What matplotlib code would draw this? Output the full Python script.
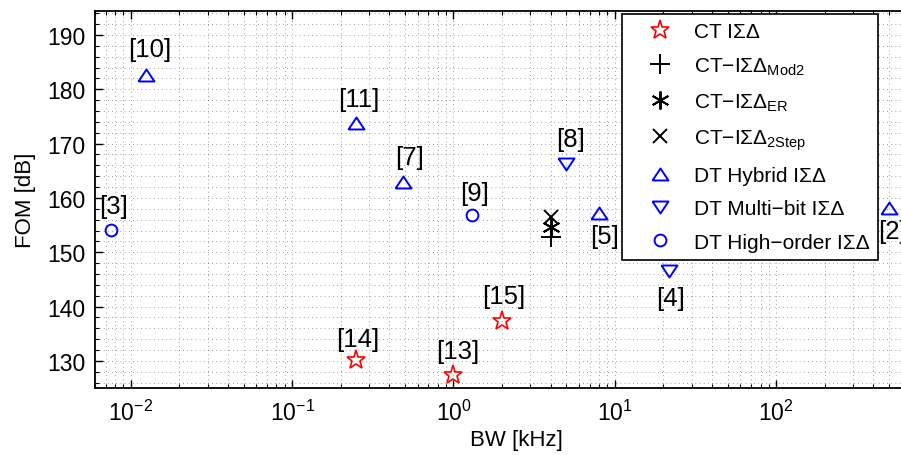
import matplotlib
matplotlib.use("Agg")
import matplotlib.pyplot as plt
from matplotlib import font_manager
from matplotlib.ticker import LogLocator, MultipleLocator, NullFormatter, FuncFormatter
import math

installed = {f.name for f in font_manager.fontManager.ttflist}
NARROW = 'Liberation Sans Narrow' in installed

if NARROW:
    main_family = ['Liberation Sans Narrow', 'Liberation Sans', 'DejaVu Sans']
    tick_fs, ann_fs, lab_fs = 19, 20.5, 18
else:
    main_family = ['Liberation Sans', 'DejaVu Sans']
    tick_fs, ann_fs, lab_fs = 16.5, 18.5, 16

plt.rcParams['font.family'] = main_family
plt.rcParams['mathtext.fontset'] = 'custom'
plt.rcParams['mathtext.rm'] = 'Liberation Sans'
plt.rcParams['mathtext.it'] = 'Liberation Sans:italic'
plt.rcParams['mathtext.bf'] = 'Liberation Sans:bold'
plt.rcParams['mathtext.sf'] = 'Liberation Sans'

# ---- data ----
ct_bw = [0.25, 1.0, 2.0]
ct_fom = [130.2, 127.4, 137.4]
ct_refs = ['[14]', '[13]', '[15]']

mod2_bw = [4.0]
mod2_fom = [152.8]
er_bw = [4.0]
er_fom = [154.6]
step2_bw = [4.0]
step2_fom = [156.5]

hyb_bw = [0.0124, 0.25, 0.49, 8.0, 500.0]
hyb_fom = [182.6, 173.8, 162.9, 157.3, 158.1]
hyb_refs = ['[10]', '[11]', '[7]', '[5]', '[2]']

mb_bw = [5.0, 21.7]
mb_fom = [166.2, 146.6]
mb_refs = ['[8]', '[4]']

ho_bw = [0.0075, 1.31]
ho_fom = [154.1, 156.9]
ho_refs = ['[3]', '[9]']

x_tick_exps = [-2, -1, 0, 1, 2]

legend_labels = ['CT I\u03a3\u0394',
                 'CT\u2212I\u03a3\u0394$_{\\mathrm{Mod2}}$',
                 'CT\u2212I\u03a3\u0394$_{\\mathrm{ER}}$',
                 'CT\u2212I\u03a3\u0394$_{\\mathrm{2Step}}$',
                 'DT Hybrid I\u03a3\u0394',
                 'DT Multi\u2212bit I\u03a3\u0394',
                 'DT High\u2212order I\u03a3\u0394']

# label offsets in pixels (dx, dy)
ct_off = [(1, 21), (4, 24), (2, 25)]
hyb_off = [(4, 26), (2, 24), (6, 25), (5, -23), (4, -23)]
mb_off = [(4, 25), (1, -27)]
ho_off = [(3, 24), (2, 22)]

# MATLAB-like flattened triangles
tri_up = [(-1, -0.75), (1, -0.75), (0, 0.75), (-1, -0.75)]
tri_dn = [(-1, 0.75), (1, 0.75), (0, -0.75), (-1, 0.75)]

W, H = 901, 456
fig = plt.figure(figsize=(W / 100, H / 100), dpi=100)
ax = fig.add_axes([95 / W, (H - 388.5) / H, (937.5 - 95) / W, (388.5 - 11.5) / H])

ax.set_xscale('log')
ax.set_xlim(0.006, 1000)
ax.set_ylim(125.1, 194.5)

mew = 1.4
ax.plot(ct_bw, ct_fom, linestyle='none', marker='*', ms=14, mfc='none', mec='red', mew=1.2, label=legend_labels[0])
ax.plot(mod2_bw, mod2_fom, linestyle='none', marker='+', ms=15, mec='black', mew=mew, label=legend_labels[1])
ax.plot(er_bw, er_fom, linestyle='none', marker=(6, 2, 0), ms=13, mec='black', mew=mew, label=legend_labels[2])
ax.plot(step2_bw, step2_fom, linestyle='none', marker='x', ms=10, mec='black', mew=mew, label=legend_labels[3])
ax.plot(hyb_bw, hyb_fom, linestyle='none', marker=tri_up, ms=11.5, mfc='none', mec='blue', mew=mew, label=legend_labels[4])
ax.plot(mb_bw, mb_fom, linestyle='none', marker=tri_dn, ms=11.5, mfc='none', mec='blue', mew=mew, label=legend_labels[5])
ax.plot(ho_bw, ho_fom, linestyle='none', marker='o', ms=8.5, mfc='none', mec='blue', mew=mew, label=legend_labels[6])

for xs, ys, refs, offs in [(ct_bw, ct_fom, ct_refs, ct_off), (hyb_bw, hyb_fom, hyb_refs, hyb_off),
                           (mb_bw, mb_fom, mb_refs, mb_off), (ho_bw, ho_fom, ho_refs, ho_off)]:
    for x, y, r, (dx, dy) in zip(xs, ys, refs, offs):
        ax.annotate(r, (x, y), xytext=(dx, dy), textcoords='offset pixels',
                    ha='center', va='center', fontsize=ann_fs, annotation_clip=False)

# ticks
def xfmt(v, pos):
    e = int(round(math.log10(v)))
    if e in x_tick_exps:
        return '$\\mathdefault{10^{%d}}$' % e
    return ''

ax.xaxis.set_major_locator(LogLocator(base=10, numticks=20))
ax.xaxis.set_major_formatter(FuncFormatter(xfmt))
ax.xaxis.set_minor_locator(LogLocator(base=10, subs=range(2, 10), numticks=100))
ax.xaxis.set_minor_formatter(NullFormatter())
ax.yaxis.set_major_locator(MultipleLocator(10))
ax.yaxis.set_minor_locator(MultipleLocator(2))
ax.tick_params(which='both', direction='in', top=True, right=True, labelsize=tick_fs)
ax.tick_params(which='major', length=6, width=1.0)
ax.tick_params(which='minor', length=3, width=0.8)
ax.tick_params(axis='x', which='major', pad=9)
ax.tick_params(axis='y', which='major', pad=7)
for s in ax.spines.values():
    s.set_linewidth(1.3)

ax.grid(True, which='both', color='black', linestyle=(0, (1, 4)), linewidth=0.6, alpha=0.5)
ax.set_axisbelow(True)

ax.set_xlabel('BW [kHz]', fontsize=lab_fs, labelpad=3)
ax.set_ylabel('FOM [dB]', fontsize=lab_fs, labelpad=8)

leg = ax.legend(loc='upper left', bbox_to_anchor=(622 / W, 1 - 15 / H), bbox_transform=fig.transFigure,
                prop={'family': ['Liberation Sans', 'DejaVu Sans'], 'size': 15},
                frameon=True, fancybox=False, framealpha=1, edgecolor='black',
                borderaxespad=0, borderpad=0.4, labelspacing=0.69, handlelength=2.85, handletextpad=0.2,
                numpoints=1)
leg.get_frame().set_linewidth(1.2)

fig.savefig('out.png', dpi=100)
